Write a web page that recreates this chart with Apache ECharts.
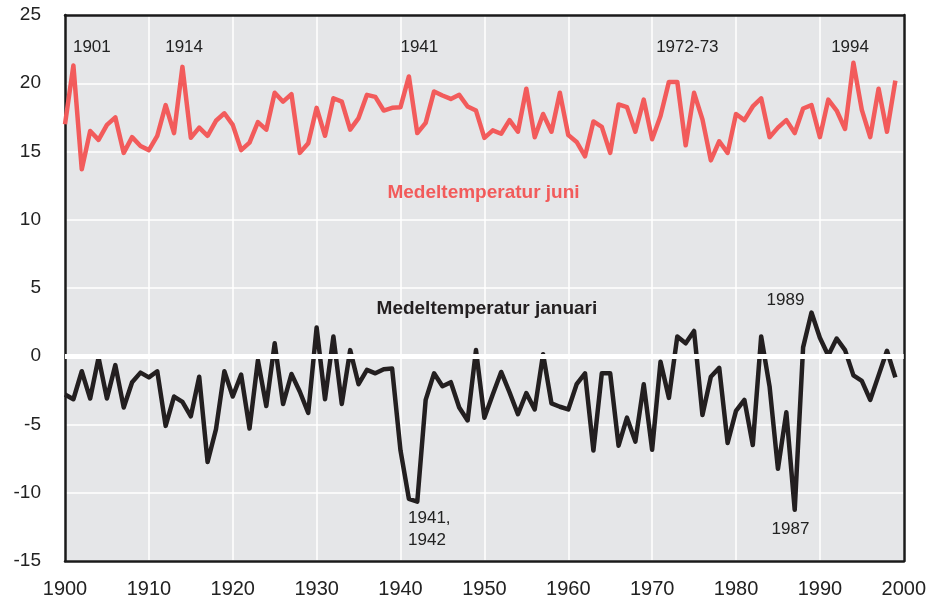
<!DOCTYPE html>
<html>
<head>
<meta charset="utf-8">
<script src="https://cdn.jsdelivr.net/npm/echarts@6/dist/echarts.min.js"></script>
<style>
    html, body { margin: 0; padding: 0; background: #fff; }
    #main { width: 929px; height: 599px; }
</style>
</head>
<body>
<div id="main"></div>
<script>
var startYear = 1900;

// Medeltemperatur juni, 1900-1999
var juni = [
    17.0, 21.3, 13.7, 16.5, 15.85, 16.95, 17.5, 14.9, 16.05, 15.4,
    15.1, 16.15, 18.4, 16.35, 21.2, 16.0, 16.75, 16.15, 17.25, 17.8,
    16.95, 15.1, 15.65, 17.15, 16.6, 19.3, 18.65, 19.2, 14.9, 15.6,
    18.2, 16.15, 18.9, 18.65, 16.6, 17.45, 19.15, 19.0, 18.0, 18.2,
    18.25, 20.5, 16.35, 17.1, 19.4, 19.1, 18.85, 19.15, 18.3, 18.0,
    16.0, 16.55, 16.3, 17.3, 16.45, 19.6, 16.05, 17.75, 16.45, 19.3,
    16.2, 15.7, 14.65, 17.2, 16.8, 14.9, 18.45, 18.25, 16.45, 18.8,
    15.9, 17.6, 20.1, 20.1, 15.45, 19.3, 17.35, 14.35, 15.75, 14.9,
    17.75, 17.3, 18.3, 18.9, 16.05, 16.75, 17.3, 16.35, 18.15, 18.4,
    16.05, 18.8, 18.0, 16.65, 21.5, 18.05, 16.05, 19.6, 16.45, 20.2
];

// Medeltemperatur januari, 1900-1999
var januari = [
    -2.8, -3.15, -1.1, -3.1, -0.1, -3.1, -0.65, -3.75, -1.9, -1.2,
    -1.55, -1.1, -5.1, -2.95, -3.35, -4.4, -1.5, -7.75, -5.35, -1.1,
    -2.95, -1.35, -5.3, -0.3, -3.65, 0.95, -3.5, -1.3, -2.6, -4.15,
    2.1, -3.15, 1.45, -3.5, 0.45, -2.05, -1.0, -1.25, -0.95, -0.9,
    -6.9, -10.45, -10.65, -3.2, -1.25, -2.2, -1.9, -3.75, -4.7, 0.45,
    -4.5, -2.8, -1.15, -2.65, -4.25, -2.7, -3.9, 0.15, -3.45, -3.7,
    -3.9, -2.05, -1.25, -6.9, -1.25, -1.25, -6.55, -4.5, -6.25, -2.05,
    -6.85, -0.4, -3.05, 1.45, 0.95, 1.85, -4.3, -1.5, -0.85, -6.35,
    -4.0, -3.2, -6.5, 1.45, -2.2, -8.25, -4.1, -11.25, 0.65, 3.2,
    1.35, 0.05, 1.3, 0.45, -1.4, -1.8, -3.2, -1.4, 0.4, -1.55
];

var xTicks = [1900, 2000, 10];
var yTicks = [-15, 25, 5];

function pairs(values) {
    return values.map(function (v, i) { return [startYear + i, v]; });
}

var font = 'Liberation Sans, Arial, sans-serif';
var red = '#f25b5b';
var black = '#231f20';
var frame = { show: true, onZero: false, lineStyle: { color: '#1a1a1a', width: 2.5 } };

function note(text, coord, size, color, weight, align) {
    return {
        coord: coord,
        symbol: 'circle',
        symbolSize: 1,
        itemStyle: { color: 'rgba(0,0,0,0)' },
        label: {
            show: true,
            position: 'inside',
            formatter: text,
            fontFamily: font,
            fontSize: size,
            fontWeight: weight || 'normal',
            color: color,
            align: align || 'center',
            lineHeight: 22
        }
    };
}

var myChart = echarts.init(document.getElementById('main'));

var option = {
    animation: false,
    backgroundColor: '#ffffff',
    grid: {
        left: 65, right: 23, top: 15, bottom: 37,
        show: true,
        backgroundColor: '#e5e6e8',
        borderWidth: 0
    },
    xAxis: [
        {
            type: 'value',
            min: xTicks[0], max: xTicks[1], interval: xTicks[2],
            axisLine: frame,
            axisTick: { show: false },
            axisLabel: {
                color: '#222', fontFamily: font, fontSize: 20, margin: 18,
                formatter: function (v) { return String(v); }
            },
            splitLine: { show: true, lineStyle: { color: '#ffffff', width: 1.5 } }
        },
        {
            type: 'value', position: 'top',
            min: xTicks[0], max: xTicks[1], interval: xTicks[2],
            axisLine: frame,
            axisTick: { show: false },
            axisLabel: { show: false },
            splitLine: { show: false }
        }
    ],
    yAxis: [
        {
            type: 'value',
            min: yTicks[0], max: yTicks[1], interval: yTicks[2],
            axisLine: frame,
            axisTick: { show: false },
            axisLabel: { color: '#222', fontFamily: font, fontSize: 19, margin: 24 },
            splitLine: { show: true, lineStyle: { color: '#ffffff', width: 1.5 } }
        },
        {
            type: 'value', position: 'right',
            min: yTicks[0], max: yTicks[1], interval: yTicks[2],
            axisLine: frame,
            axisTick: { show: false },
            axisLabel: { show: false },
            splitLine: { show: false }
        }
    ],
    series: [
        {
            name: 'Medeltemperatur juni',
            type: 'line',
            data: pairs(juni),
            showSymbol: false,
            z: 3,
            lineStyle: { color: red, width: 4.5, join: 'round' },
            markLine: {
                silent: true,
                symbol: 'none',
                label: { show: false },
                lineStyle: { color: '#ffffff', width: 5, type: 'solid' },
                data: [{ yAxis: 0 }]
            },
            markPoint: {
                silent: true,
                data: [
                    note('1901', [1903.2, 22.65], 17, '#222'),
                    note('1914', [1914.2, 22.65], 17, '#222'),
                    note('1941', [1942.25, 22.65], 17, '#222'),
                    note('1972-73', [1974.2, 22.65], 17, '#222'),
                    note('1994', [1993.6, 22.65], 17, '#222'),
                    note('Medeltemperatur juni', [1949.9, 12.0], 19, red, 'bold')
                ]
            }
        },
        {
            name: 'Medeltemperatur januari',
            type: 'line',
            data: pairs(januari),
            showSymbol: false,
            z: 4,
            lineStyle: { color: black, width: 4.5, join: 'round' },
            markPoint: {
                silent: true,
                data: [
                    note('Medeltemperatur januari', [1950.3, 3.5], 19, black, 'bold'),
                    note('1989', [1985.9, 4.1], 17, '#222'),
                    note('1941,\n1942', [1940.9, -12.65], 17, '#222', 'normal', 'left'),
                    note('1987', [1986.5, -12.65], 17, '#222')
                ]
            }
        }
    ]
};

myChart.setOption(option);
</script>
</body>
</html>
